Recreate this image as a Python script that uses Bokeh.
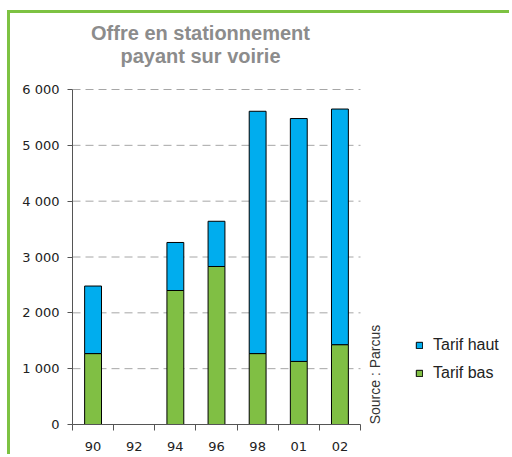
import math
from bokeh.plotting import figure
from bokeh.models import (ColumnDataSource, FixedTicker, Range1d, Label, Legend, LegendItem)
from bokeh.embed import file_html
from bokeh.resources import INLINE

years = ["90", "92", "94", "96", "98", "01", "02"]
tarif_bas = [1270, 0, 2400, 2830, 1270, 1130, 1430]
tarif_haut = [1210, 0, 860, 810, 4340, 4350, 4220]
y_ticks = [0, 1000, 2000, 3000, 4000, 5000, 6000]
y_tick_labels = ["0", "1 000", "2 000", "3 000", "4 000", "5 000", "6 000"]
title_lines = ["Offre en stationnement", "payant sur voirie"]
source_text = "Source : Parcus"
series_names = ["Tarif haut", "Tarif bas"]

BLUE = "#00adee"
GREEN = "#80bf44"
FRAME = "#7dc242"
AXIS = "#555555"

n = len(years)
y_max = y_ticks[-1]
xs = [i + 0.5 for i in range(n)]
top_total = [b + h for b, h in zip(tarif_bas, tarif_haut)]
src = ColumnDataSource(dict(x=xs, bas=tarif_bas, total=top_total, zero=[0] * n))
grid_src = ColumnDataSource(dict(y=y_ticks[1:], x0=[0] * (len(y_ticks) - 1),
                                 x1=[n] * (len(y_ticks) - 1)))

# frame spans the whole canvas right/top area; axes are bounded to the data block
W, H = 502, 444
LEFT, BOTTOM = 62, 33
CAT_PX, VAL_PX = 288, 335
frame_w, frame_h = W - LEFT, H - BOTTOM

p = figure(width=W, height=H, output_backend="svg", toolbar_location=None,
           x_range=Range1d(0, n * frame_w / CAT_PX),
           y_range=Range1d(0, y_max * frame_h / VAL_PX),
           min_border=0, min_border_left=LEFT, min_border_right=0,
           min_border_top=0, min_border_bottom=BOTTOM, title=None)
p.styles = {"border-top": f"3px solid {FRAME}", "border-left": f"3px solid {FRAME}",
            "margin-top": "10px", "margin-left": "7px"}
p.outline_line_color = None
p.background_fill_color = "white"
p.border_fill_color = "white"
p.xgrid.visible = False
p.ygrid.visible = False

p.segment(x0="x0", x1="x1", y0="y", y1="y", source=grid_src,
          line_color="#a6a6a6", line_dash="8 5", line_width=1)

r_bas = p.vbar(x="x", bottom="zero", top="bas", width=0.41, source=src,
               fill_color=GREEN, line_color="black", line_width=1)
r_haut = p.vbar(x="x", bottom="bas", top="total", width=0.41, source=src,
                fill_color=BLUE, line_color="black", line_width=1)

p.yaxis.bounds = (0, y_max)
p.yaxis.ticker = FixedTicker(ticks=y_ticks)
p.yaxis.major_label_overrides = {t: l for t, l in zip(y_ticks, y_tick_labels)}
p.yaxis.major_tick_in = 0
p.yaxis.major_tick_out = 5
p.yaxis.minor_tick_line_color = None
p.yaxis.axis_line_color = AXIS
p.yaxis.major_tick_line_color = AXIS
p.yaxis.major_label_standoff = 8
p.yaxis.major_label_text_font = "DejaVu Sans"
p.yaxis.major_label_text_font_size = "13px"
p.yaxis.major_label_text_color = "#222222"

p.xaxis.bounds = (0, n)
p.xaxis.ticker = FixedTicker(ticks=xs, minor_ticks=list(range(n + 1)))
p.xaxis.major_label_overrides = {x: y for x, y in zip(xs, years)}
p.xaxis.major_tick_line_color = None
p.xaxis.major_tick_in = 0
p.xaxis.major_tick_out = 0
p.xaxis.minor_tick_in = 0
p.xaxis.minor_tick_out = 6
p.xaxis.minor_tick_line_color = AXIS
p.xaxis.axis_line_color = AXIS
p.xaxis.major_label_standoff = 11
p.xaxis.major_label_text_font = "DejaVu Sans"
p.xaxis.major_label_text_font_size = "13px"
p.xaxis.major_label_text_color = "#222222"

for txt, yy in zip(title_lines, [392, 369]):
    p.add_layout(Label(x=128, y=yy, x_units="screen", y_units="screen", text=txt,
                       text_align="center", text_baseline="middle",
                       text_font="Liberation Sans", text_font_style="bold",
                       text_font_size="20px", text_color="#8c8c8c"))

p.add_layout(Label(x=302, y=50, x_units="screen", y_units="screen", text=source_text,
                   angle=math.pi / 2, text_align="center", text_baseline="middle",
                   text_font="Liberation Sans", text_font_size="14px",
                   text_color="#333333"))

legend = Legend(items=[LegendItem(label=series_names[0], renderers=[r_haut]),
                       LegendItem(label=series_names[1], renderers=[r_bas])],
                location=(343, 41), padding=0, margin=0, spacing=8,
                glyph_width=8, glyph_height=8, label_height=20,
                label_standoff=10, border_line_color=None,
                background_fill_alpha=0,
                label_text_font="Liberation Sans", label_text_font_size="16px",
                label_text_color="#222222")
p.add_layout(legend, "center")

open("out.html", "w").write(file_html(p, INLINE))
